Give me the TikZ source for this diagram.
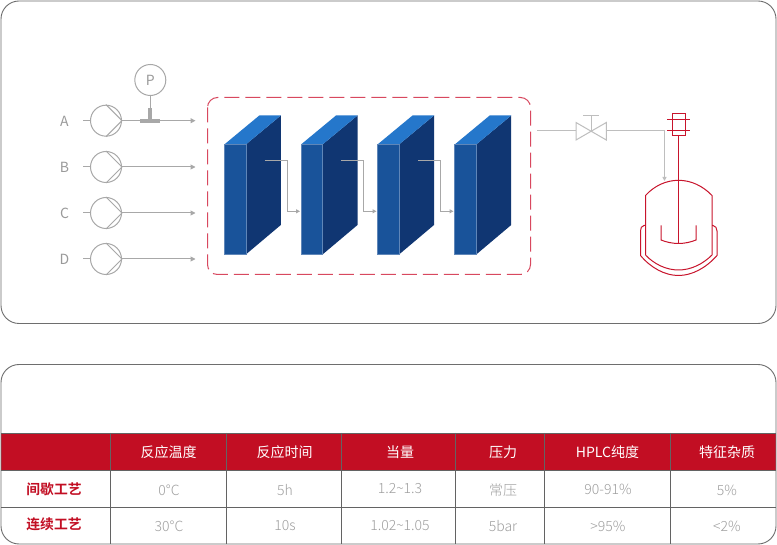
\documentclass[tikz,border=0pt]{standalone}
\usepackage{fontspec}
\usetikzlibrary{arrows.meta}
\newfontfamily\cjkreg{Noto Sans CJK SC}
\newfontfamily\cjkbold{Noto Sans CJK SC Bold}
\newfontfamily\cjklight{Noto Sans CJK SC Light}
\definecolor{frameg}{HTML}{6E6E6E}
\definecolor{gridg}{HTML}{636363}
\definecolor{lineg}{HTML}{A8A8A8}
\definecolor{txtg}{HTML}{9E9E9E}
\definecolor{lblg}{HTML}{9A9A9A}
\definecolor{hdr}{HTML}{C20E23}
\definecolor{dash}{HTML}{D8485F}
\definecolor{vessel}{HTML}{C8142C}
\definecolor{bfront}{HTML}{19539A}
\definecolor{btop}{HTML}{2577CB}
\definecolor{bside}{HTML}{103672}
\definecolor{bedge}{HTML}{5F86B8}
\tikzset{
  frame/.style={draw=frameg,line width=.9pt,rounded corners=18pt},
  pumpc/.style={circle,draw=lineg,line width=1pt,minimum size=31pt,inner sep=0pt,fill=white},
  pipe/.style={draw=lineg,line width=1pt},
  flow/.style={pipe,-{Triangle[length=5pt,width=5pt,fill=lineg]}},
  letter/.style={font=\cjkreg\fontsize{14}{14}\selectfont,text=lblg},
  hcell/.style={font=\cjkreg\fontsize{14}{14}\selectfont,text=white},
  rcell/.style={font=\cjkbold\fontsize{13.8}{14}\selectfont,text=hdr},
  dcell/.style={font=\cjklight\fontsize{14}{14}\selectfont,text=txtg},
  gridl/.style={draw=gridg,line width=.9pt},
  ves/.style={draw=vessel,line width=1pt},
}
\newcommand{\blockat}[1]{%
  \fill[bside] (#1+21.5,144.5) -- (#1+56.5,115.5) -- (#1+56.5,225) -- (#1+21.5,254.5) -- cycle;
  \fill[btop] (#1,144.5) -- (#1+35,115.5) -- (#1+56.5,115.5) -- (#1+21.5,144.5) -- cycle;
  \filldraw[fill=bfront,draw=bedge,line width=.6pt] (#1,144.5) rectangle (#1+21.5,254.5);
}
\begin{document}
\begin{tikzpicture}[x=1pt,y=-1pt]
\useasboundingbox (0,0) rectangle (777,545);
\fill[white] (0,0) rectangle (777,545);
\draw[frame] (1,1) rectangle (776,323.5);
% table header
\fill[hdr] (1,433) rectangle (776,470);
\draw[frame] (1,364.5) rectangle (776,544);
\foreach \yy in {433,470,507}{\draw[gridl] (1,\yy) -- (776,\yy);}
\foreach \xx in {110.5,226.5,341,455.5,544.5,670.5}{\draw[gridl] (\xx,433) -- (\xx,544);}
% header text
\node[hcell] (h1) at (168.5,452) {反应温度};
\node[hcell] (h2) at (284.5,452) {反应时间};
\node[hcell] (h3) at (400,452) {当量};
\node[hcell] (h4) at (503,452) {压力};
\node[hcell] (h5) at (607.5,452) {HPLC纯度};
\node[hcell] (h6) at (727,452) {特征杂质};
\node[rcell] (r1) at (54,489) {间歇工艺};
\node[rcell] (r2) at (54,524) {连续工艺};
\node[dcell] (a1) at (169,490) {0°C};
\node[dcell] (a2) at (285,490) {5h};
\node[dcell] (a3) at (400,489) {1.2\textasciitilde1.3};
\node[dcell] (a4) at (503,490) {常压};
\node[dcell] (a5) at (608,489) {90-91\%};
\node[dcell] (a6) at (727,490) {5\%};
\node[dcell] (b1) at (169,526) {30°C};
\node[dcell] (b2) at (285,526) {10s};
\node[dcell] (b3) at (400,526) {1.02\textasciitilde1.05};
\node[dcell] (b4) at (503,526) {5bar};
\node[dcell] (b5) at (608,526) {>95\%};
\node[dcell] (b6) at (727,526) {<2\%};
% pumps
\foreach \nm/\yy in {A/120.7,B/167,C/213,D/259}{
  \node[letter] (l\nm) at (64.5,\yy+.8) {\nm};
  \coordinate (s\nm) at (83,\yy);
  \coordinate (e\nm) at (195.5,\yy);
  \node[pumpc] (p\nm) at (106,\yy) {};
  \draw[pipe] (s\nm) -- (p\nm.west);
  \draw[pipe] (p\nm.north) -- (p\nm.east) -- (p\nm.south);
  \draw[flow] (p\nm.east) -- (e\nm);
}
% pressure gauge
\node[pumpc,font=\cjkreg\fontsize{14}{14}\selectfont,text=lblg] (gauge) at (150.3,80) {P};
\coordinate (tee) at (150.3,120);
\draw[pipe] (gauge) -- (tee);
\fill[lineg] (148.3,108.5) rectangle (152.3,119);
\fill[lineg] (140,119) rectangle (160,123);
% dashed box
\draw[draw=dash,line width=1pt,dash pattern=on 15pt off 6pt,rounded corners=10pt] (207.5,97.5) rectangle (530.5,274.5);
% blocks
\blockat{224.3}
\blockat{301}
\blockat{377.5}
\blockat{454.7}
% block connectors
\foreach \i/\x/\xb/\xe in {1/264.5/287.5/300,2/341/363.5/376.5,3/418/440.5/453.5}{
  \coordinate (cs\i) at (\x,160.3);
  \coordinate (ce\i) at (\xe,211.3);
  \draw[flow,-{Triangle[length=4pt,width=4pt,fill=lineg]}] (cs\i) -- (\xb,160.3) -- (\xb,211.3) -- (ce\i);
}
% valve and line
\coordinate (vin) at (537,131);
\coordinate (vl) at (576,131);
\coordinate (vr) at (606.3,131);
\coordinate (vc) at (591,131);
\coordinate (vt) at (591,115.5);
\coordinate (inlet) at (664.5,181);
\draw[draw=lineg!75,line width=1pt] (vin) -- (vl);
\draw[draw=lineg!75,line width=1pt] (576,122.5) -- (606.3,140) -- (606.3,122.5) -- (576,140) -- cycle;
\draw[draw=lineg!75,line width=1pt] (vc) -- (vt);
\draw[draw=lineg!75,line width=1pt] (583,115.5) -- (599,115.5);
\draw[draw=lineg!75,line width=1pt,-{Triangle[length=4pt,width=4pt,fill=lineg!75]}] (vr) -- (664.5,131) -- (inlet);
% reactor
\draw[ves] (672,113.5) rectangle (685.5,136);
\draw[ves] (667,119.5) -- (690,119.5);
\draw[ves] (667,130.5) -- (690,130.5);
\draw[ves] (678.5,136) -- (678.5,243.5);
\draw[ves] (645.5,255) -- (645.5,195.5) .. controls (654,186) and (666,180.3) .. (678.5,180.3) .. controls (691,180.3) and (703,186) .. (712,195.5) -- (712,255) .. controls (703,264) and (691,270) .. (678.5,270) .. controls (666,270) and (654,264) .. (645.5,255);
\draw[ves] (645.5,225.5) -- (644,225.5) .. controls (641.5,226) and (640.5,228) .. (640.5,231) -- (640.5,255.5) .. controls (651,268) and (665,275.5) .. (678.5,275.5) .. controls (692,275.5) and (706,268) .. (717,255.5) -- (717,231) .. controls (717,228) and (715.5,226) .. (713,225.5) -- (712,225.5);
\draw[ves] (661,225.5) -- (661,240) .. controls (666,242) and (672,243.5) .. (678.5,243.5) .. controls (685,243.5) and (691,242) .. (696,240) -- (696,225.5);
\end{tikzpicture}
\end{document}
